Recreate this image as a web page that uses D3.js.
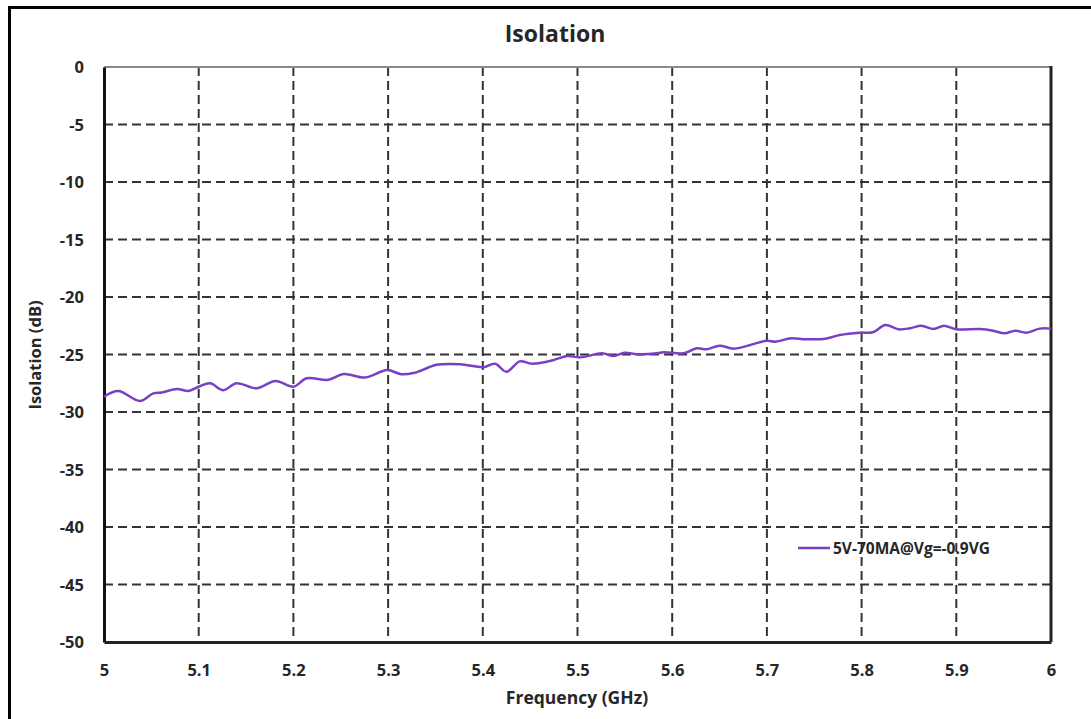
<!DOCTYPE html>
<html>
<head>
<meta charset="utf-8">
<script src="https://cdn.jsdelivr.net/npm/d3@7"></script>
<style>
html,body{margin:0;padding:0;background:#fff;}
svg{display:block;}
text{font-family:"Open Sans","Noto Sans",sans-serif;font-weight:bold;fill:#262626;}
</style>
</head>
<body>
<svg id="chart" width="1091" height="719"></svg>
<script>
const chartTitle = "Isolation";
const xLabel = "Frequency (GHz)";
const yLabel = "Isolation (dB)";
const seriesName = "5V-70MA@Vg=-0.9VG";
const xTicks = [5, 5.1, 5.2, 5.3, 5.4, 5.5, 5.6, 5.7, 5.8, 5.9, 6];
const yTicks = [0, -5, -10, -15, -20, -25, -30, -35, -40, -45, -50];
const freq = [5.000,5.015,5.038,5.052,5.061,5.077,5.089,5.100,5.112,5.126,5.140,5.161,5.181,5.200,5.214,5.237,5.253,5.276,5.299,5.314,5.328,5.342,5.351,5.376,5.401,5.413,5.425,5.439,5.452,5.474,5.489,5.503,5.526,5.538,5.550,5.563,5.584,5.591,5.612,5.626,5.636,5.650,5.665,5.691,5.700,5.710,5.724,5.742,5.763,5.777,5.798,5.812,5.825,5.839,5.851,5.863,5.876,5.887,5.900,5.925,5.939,5.951,5.962,5.974,5.988,6.000];
const isolation = [-28.67,-28.17,-29.04,-28.38,-28.30,-28.00,-28.17,-27.80,-27.50,-28.10,-27.50,-27.94,-27.30,-27.80,-27.07,-27.20,-26.70,-27.00,-26.35,-26.72,-26.58,-26.15,-25.90,-25.85,-26.10,-25.80,-26.50,-25.60,-25.80,-25.50,-25.13,-25.25,-24.90,-25.13,-24.84,-24.98,-24.90,-24.80,-24.90,-24.46,-24.55,-24.23,-24.49,-23.97,-23.80,-23.88,-23.60,-23.68,-23.60,-23.30,-23.10,-23.07,-22.43,-22.81,-22.72,-22.50,-22.78,-22.50,-22.81,-22.78,-22.93,-23.16,-22.93,-23.10,-22.75,-22.75];

const svg = d3.select("#chart");
const m = {left:104, right:1051, top:67, bottom:642};
const fmt = d => String(d);

// outer frame (only left & top visible)
svg.append("rect").attr("x",9.5).attr("y",7.5).attr("width",1200).attr("height",800)
  .attr("fill","none").attr("stroke","#000").attr("stroke-width",3);

const x = d3.scaleLinear().domain([5,6]).range([m.left,m.right]);
const y = d3.scaleLinear().domain([-50,0]).range([m.bottom,m.top]);

// grid
const grid = svg.append("g");
grid.selectAll("line.v").data(xTicks.slice(1,-1)).join("line")
  .attr("x1",d=>x(d)).attr("x2",d=>x(d)).attr("y1",m.top).attr("y2",m.bottom)
  .attr("stroke","#333").attr("stroke-width",2).attr("stroke-dasharray","9,5");
grid.selectAll("line.h").data(yTicks.slice(1,-1)).join("line")
  .attr("y1",d=>y(d)).attr("y2",d=>y(d)).attr("x1",m.left).attr("x2",m.right)
  .attr("stroke","#333").attr("stroke-width",2).attr("stroke-dasharray","9,5");

// plot border
svg.append("line").attr("x1",m.left).attr("x2",m.right).attr("y1",m.top).attr("y2",m.top)
  .attr("stroke","#8a8a8a").attr("stroke-width",2);
svg.append("line").attr("x1",m.right).attr("x2",m.right).attr("y1",m.top-1).attr("y2",m.bottom)
  .attr("stroke","#222").attr("stroke-width",3);

// axes
const xAxis = d3.axisBottom(x).tickValues(xTicks).tickSize(0).tickPadding(0).tickFormat(fmt);
const gx = svg.append("g").attr("transform",`translate(0,${m.bottom})`).call(xAxis);
gx.select(".domain").attr("stroke","#222").attr("stroke-width",3);
gx.selectAll("text").attr("dy",null).attr("y",34).style("font-size","16.5px")
  .style("font-family","'Open Sans',sans-serif").style("font-weight","bold").attr("fill","#262626");

const yAxis = d3.axisLeft(y).tickValues(yTicks).tickSize(0).tickPadding(0).tickFormat(fmt);
const gy = svg.append("g").attr("transform",`translate(${m.left},0)`).call(yAxis);
gy.select(".domain").attr("stroke","#111").attr("stroke-width",3);
gy.selectAll("text").attr("x",-20).attr("dy","0.35em").style("font-size","16.5px")
  .style("font-family","'Open Sans',sans-serif").style("font-weight","bold").attr("fill","#262626");

// series
const line = d3.line().x((d,i)=>x(freq[i])).y(d=>y(d)).curve(d3.curveCatmullRom.alpha(0.5));
svg.append("path").datum(isolation).attr("d",line)
  .attr("fill","none").attr("stroke","#7b3fc4").attr("stroke-width",2.5);

// titles
svg.append("text").attr("x",555).attr("y",42).attr("text-anchor","middle")
  .style("font-size","23px").text(chartTitle);
svg.append("text").attr("x",577).attr("y",704).attr("text-anchor","middle")
  .style("font-size","17.5px").text(xLabel);
svg.append("text").attr("transform","translate(41,355) rotate(-90)").attr("text-anchor","middle")
  .style("font-size","16.5px").text(yLabel);

// legend
svg.append("line").attr("x1",798).attr("x2",830).attr("y1",548).attr("y2",548)
  .attr("stroke","#7b3fc4").attr("stroke-width",2.5);
svg.append("text").attr("x",833).attr("y",554).style("font-size","15.5px").text(seriesName);
</script>
</body>
</html>
